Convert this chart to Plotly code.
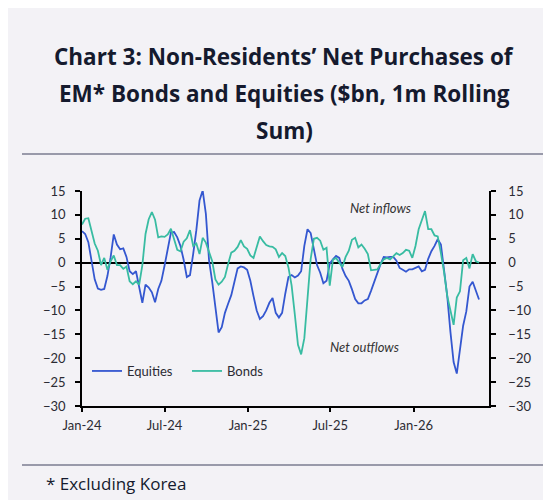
"""Non-residents' net purchases of EM bonds and equities, 1m rolling sum ($bn)."""

import pandas as pd
import plotly.graph_objects as go

DATES = pd.date_range("2024-01-01", periods=126, freq="7D")

EQUITIES = [
    6.6, 6.0, 4.3, 0.4, -3.5, -5.4, -5.7, -5.5, -2.8, 1.1,
    5.9, 3.8, 2.8, 3.0, 1.2, -1.8, -2.4, -1.8, -5.0, -8.4,
    -4.6, -5.2, -6.2, -8.3, -5.5, -3.8, -0.6, 3.1, 6.3, 6.4,
    5.3, 3.5, 0.6, -3.0, -2.6, 1.8, 6.8, 13.0, 15.1, 10.2,
    0.5, -4.0, -9.3, -14.6, -13.5, -10.5, -8.6, -6.8, -4.0, -1.2,
    -0.8, -1.0, -1.5, -3.8, -7.0, -10.0, -11.8, -11.2, -10.0, -8.4,
    -7.4, -10.5, -11.5, -10.5, -6.5, -3.0, -2.6, -3.1, -2.7, -1.8,
    3.5, 7.0, 6.2, 2.5, -0.5, -2.1, -4.3, -3.8, -0.2, 0.7,
    1.4, 1.0, -1.3, -2.8, -3.8, -5.6, -7.6, -8.5, -8.5, -7.9,
    -7.6, -5.9, -4.0, -2.2, -0.3, 1.2, 1.1, 1.2, 1.2, 0.4,
    -1.1, -1.5, -1.9, -1.4, -1.4, -1.1, -0.8, -1.8, -1.5, 0.8,
    2.4, 3.5, 4.9, 3.8, -1.5, -7.0, -14.5, -20.8, -23.2, -18.5,
    -13.2, -10.2, -5.0, -4.0, -6.0, -7.7,
]

BONDS = [
    8.0, 9.2, 9.3, 6.3, 4.0, 2.5, -0.5, 1.0, -1.5, 0.3,
    1.5, -0.5, -0.5, -1.3, -0.8, -3.9, -4.5, -3.9, -4.6, -0.5,
    6.0, 9.1, 10.6, 9.0, 5.3, 5.5, 5.4, 5.9, 7.1, 4.9,
    2.7, 2.4, 4.4, 5.1, 6.8, 3.5, 4.0, 1.8, 5.2, 4.2,
    2.0, 0.3, -3.5, -4.6, -4.0, -3.0, -0.3, 2.1, 2.5, 3.3,
    4.7, 3.4, 2.9, 1.5, 1.0, 3.5, 5.5, 4.5, 3.7, 3.4,
    3.3, 2.8, 1.2, 2.0, 1.4, -1.0, -4.8, -10.8, -17.2, -19.2,
    -15.8, -7.5, 0.8, 5.0, 5.2, 4.6, 2.7, 3.1, -4.8, 0.6,
    1.0, 0.0, -0.9, 1.2, 2.5, 4.8, 5.2, 3.2, 3.8, 2.9,
    1.8, -1.6, -1.5, -1.4, -0.3, 0.7, 1.0, 0.7, 1.3, 2.0,
    1.6, 2.0, 2.7, 2.5, 1.0, 3.5, 7.0, 9.1, 10.8, 7.0,
    7.0, 5.7, 5.5, 2.0, -2.0, -7.0, -10.0, -13.0, -7.3, -6.0,
    0.5, 1.0, -1.2, 1.8, 0.3, 0.0,
]

TITLE_LINES = [
    "Chart 3: Non-Residents’ Net Purchases of",
    "EM* Bonds and Equities ($bn, 1m Rolling",
    "Sum)",
]
FOOTNOTE = "* Excluding Korea"

BG = "#f3f2f6"
BLUE = "#3457d0"
TEAL = "#38bca2"
INK = "#151a2e"
RULE = "#7b7d90"

# plot area in pixels: x 74..481, y 183..398
W, H = 551, 500
L, R, T, B = 74, 70, 183, 102
PW, PH = W - L - R, H - T - B


def px_x(x):
    return (x - L) / PW


def px_y(y):
    return (H - B - y) / PH


fig = go.Figure()
fig.add_trace(
    go.Scatter(x=DATES, y=EQUITIES, mode="lines", name="Equities",
               line={"color": BLUE, "width": 1.8})
)
fig.add_trace(
    go.Scatter(x=DATES, y=BONDS, mode="lines", name="Bonds", yaxis="y2",
               line={"color": TEAL, "width": 1.8})
)

tick_font = {"family": "Lato", "size": 13, "color": "#2b2b33"}
yaxis_common = dict(
    range=[-30, 15], dtick=5, showgrid=False, showline=True, linecolor="black",
    linewidth=1.5, ticks="outside", ticklen=5, tickwidth=1.5, tickcolor="black",
    tickfont=tick_font, fixedrange=True,
)

annotations = []
for i, line in enumerate(TITLE_LINES):
    annotations.append(dict(
        text=line, xref="paper", yref="paper", x=px_x(276), y=px_y(48 + 37 * i),
        xanchor="center", yanchor="middle", showarrow=False,
        font={"family": "Open Sans", "size": 22.5, "color": INK, "weight": "bold"},
    ))
annotations += [
    dict(text=FOOTNOTE, xref="paper", yref="paper", x=px_x(36), y=px_y(475),
         xanchor="left", yanchor="middle", showarrow=False,
         font={"family": "Open Sans", "size": 17, "color": INK}),
    dict(text="<i>Net inflows</i>", x="2025-10-20", y=11.5, xref="x", yref="y",
         showarrow=False, font={"family": "Lato", "size": 13, "color": "#333"}),
    dict(text="<i>Net outflows</i>", x="2025-09-15", y=-17.6, xref="x", yref="y",
         showarrow=False, font={"family": "Lato", "size": 13, "color": "#333"}),
]

rule = {"color": RULE, "width": 1.5}
shapes = [
    dict(type="line", xref="paper", yref="paper", x0=px_x(14), x1=px_x(W),
         y0=px_y(yy), y1=px_y(yy), line=rule)
    for yy in (146, 457, 496)
]

fig.update_layout(
    width=W, height=H,
    margin={"l": L, "r": R, "t": T, "b": B},
    paper_bgcolor=BG, plot_bgcolor=BG,
    showlegend=True,
    legend={
        "orientation": "h", "x": px_x(79), "y": px_y(363), "xanchor": "left",
        "yanchor": "middle", "bgcolor": "rgba(0,0,0,0)",
        "font": {"family": "Lato", "size": 13, "color": "#2b2b33"},
        "entrywidth": 55, "entrywidthmode": "pixels",
    },
    xaxis=dict(
        type="date", range=["2024-01-01", "2026-06-16"], tick0="2024-01-01",
        dtick="M6", tickformat="%b-%y", showgrid=False, showline=True,
        linecolor="black", linewidth=1.5, ticks="outside", ticklen=4,
        tickwidth=1.5, tickcolor="black", tickfont=tick_font, fixedrange=True,
        ticklabelstandoff=3,
    ),
    yaxis=dict(**yaxis_common, zeroline=True, zerolinecolor="black",
               zerolinewidth=1.8, side="left", ticklabelstandoff=7),
    yaxis2=dict(**yaxis_common, zeroline=False, overlaying="y", side="right",
                ticklabelstandoff=10),
    annotations=annotations,
    shapes=shapes,
)

fig.write_html("out.html")
